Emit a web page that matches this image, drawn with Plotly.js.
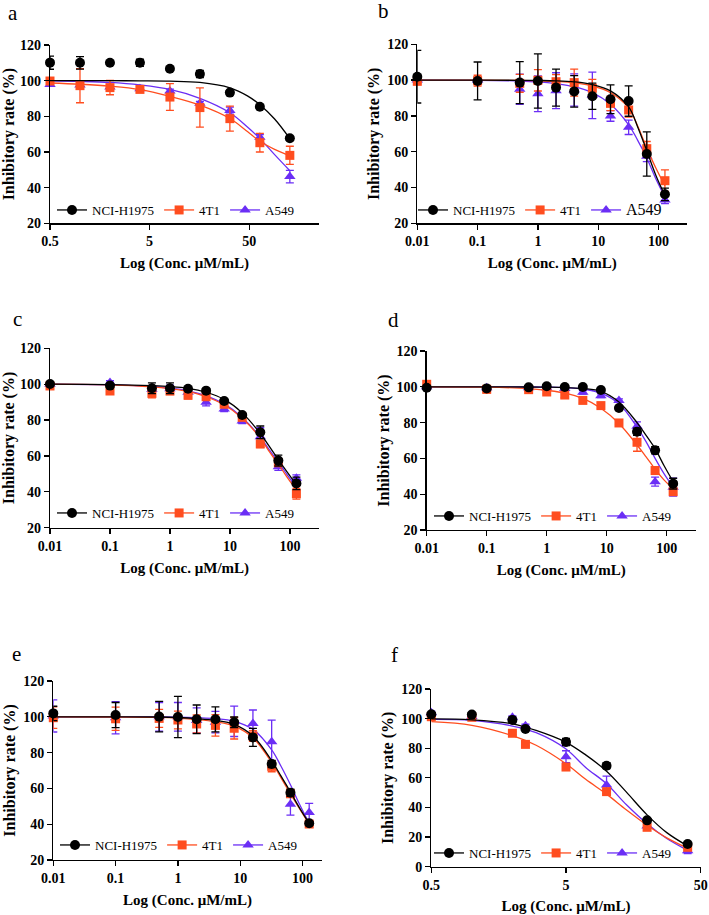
<!DOCTYPE html>
<html><head><meta charset="utf-8">
<script src="https://cdn.plot.ly/plotly-3.0.1.min.js"></script>
<style>html,body{margin:0;padding:0;background:#fff}#chart{width:709px;height:915px}</style>
</head><body><div id="chart"></div>
<script>
// ---------- data ----------
const seriesNames = ['NCI-H1975', '4T1', 'A549'];
const xTickA = [0.5, 5, 50];
const xTickB = [0.01, 0.1, 1, 10, 100];
const xTickF = [0.5, 5, 50];

const concA = [0.5, 1, 2, 4, 8, 16, 32, 64, 128];
const concB = [0.01, 0.1, 0.5, 1, 2, 4, 8, 16, 32, 64, 128];
const concF = [0.5, 1, 2, 2.5, 5, 10, 20, 40];
const fitXA = [0.5, 1, 2, 4, 8, 16, 32, 48, 64, 90, 128];
const fitXB = [0.01, 0.1, 0.5, 1, 2, 4, 8, 16, 32, 45, 64, 90, 128];
const fitXF = [0.5, 1, 2, 3, 5, 7, 10, 14, 20, 28, 40];

// panel a
const aNci = [110.1, 110, 110, 110, 106.7, 103.7, 93.3, 85.4, 67.7];
const aNciErr = [3.7, 3.5, 1, 2, 1, 2, 1.2, 1, 1];
const a4t1 = [99.8, 97.2, 96.1, 95.1, 90.8, 84.9, 78.7, 65.2, 58.1];
const a4t1Err = [1, 9.6, 4, 1.5, 7.5, 11, 7, 5.2, 5.1];
const aA549 = [97.9, 97.5, 96.5, 95.5, 94.2, 87.3, 83.2, 68.2, 46.2];
const aA549Err = [1, 1, 1, 1, 1, 1, 2, 1.5, 3.5];
const aNciFit = [100, 100, 100, 99.9, 99.7, 99, 96, 91.5, 86.5, 78.5, 67.5];
const a4t1Fit = [98.7, 98, 96.9, 95, 91.2, 86.3, 78.8, 71.5, 66, 61.5, 58];
const aA549Fit = [99.9, 99.6, 99, 97.6, 95.1, 90.1, 82, 74, 67.5, 58.5, 49.5];

// panel b
const bNci = [101.9, 99.5, 98.6, 99.5, 95.8, 93.7, 91.0, 89.3, 88.3, 58.7, 36.2];
const bNciErr = [14.7, 10.6, 11.7, 15.2, 10.3, 8.8, 7.3, 8, 8.5, 12.4, 3.5];
const b4t1 = [99.3, 99.7, 98.2, 99.9, 99.1, 98.6, 95.4, 87.0, 83.3, 61.7, 43.8];
const b4t1Err = [1, 3, 5, 6, 4, 7.5, 5, 4, 4, 4, 6];
const bA549 = [100, 100, 94.9, 92.4, 94.1, 94.5, 91.5, 80, 73.6, 57.5, 33];
const bA549Err = [1, 1, 8.4, 10, 10, 9, 13, 3, 4, 3, 2];
const bNciFit = [100, 100, 99.9, 99.8, 99.6, 99, 97.5, 94, 85, 74, 60.5, 47, 35.5];
const b4t1Fit = [100, 100, 99.8, 99.6, 99.2, 98.5, 96.8, 93, 84.5, 74.5, 62, 51, 41];
const bA549Fit = [100, 99.9, 99.5, 99, 98, 96.3, 93, 86.5, 75, 66.5, 56.5, 45, 34.5];

// panel c
const cNci = [100.1, 99.2, 97.7, 97.7, 97.5, 96.4, 90.6, 82.8, 73.2, 57.4, 44.7];
const cNciErr = [0.5, 0.8, 3, 3, 1, 1, 1, 1, 3.5, 3, 3.5];
const c4t1 = [99, 96.2, 94.9, 96.2, 93.8, 93.0, 88.8, 81.5, 66.7, 56.2, 38.9];
const c4t1Err = [1, 1, 2.5, 2, 2, 1, 1, 1, 2, 2, 3];
const cA549 = [100, 100.9, 97, 97.5, 95.5, 89.9, 86.2, 79.5, 70.7, 54, 47.5];
const cA549Err = [0.5, 1, 2, 2, 2, 2, 1.5, 1.5, 5, 2, 2];
const cNciFit = [100, 99.8, 99.2, 98.7, 97.7, 95.5, 91.5, 84, 72.5, 65.5, 58, 51, 44];
const c4t1Fit = [100, 99.6, 98.5, 97.5, 96, 93, 88.5, 81, 70, 62.5, 55.5, 48, 41];
const cA549Fit = [100, 99.6, 98.7, 97.8, 96.3, 93.5, 89, 81.5, 70.5, 63.5, 56.5, 49.5, 42.5];

// panel d
const dNci = [99.5, 99.1, 99.7, 100.3, 99.9, 99.9, 98.2, 88.2, 74.9, 64.5, 45.9];
const dNciErr = [1, 1, 1, 1, 0.5, 0.5, 1, 1, 2, 2, 3];
const d4t1 = [101.4, 98.6, 98.4, 97.1, 95.4, 92.4, 89.5, 79.8, 69, 53.2, 41.4];
const d4t1Err = [1, 2, 1, 1, 1.5, 1.5, 1.5, 1, 5, 2, 1.5];
const dA549 = [100, 99.5, 99.5, 99.5, 99, 96.9, 95, 92.3, 77.9, 47, 43.9];
const dA549Err = [0.5, 0.5, 0.5, 0.5, 0.5, 1, 1, 1, 2.5, 2.5, 5];
const dNciFit = [100, 100, 99.9, 99.8, 99.6, 99, 97.5, 91.5, 80, 73, 65.5, 56, 47];
const d4t1Fit = [100, 99.8, 99, 98, 96.5, 93.5, 88, 79.5, 67.5, 61, 54, 48, 43];
const dA549Fit = [100, 100, 99.9, 99.8, 99.5, 98.8, 96.5, 90.5, 77.5, 69.5, 60, 51.5, 44];

// panel e
const eNci = [101.9, 101, 100.1, 99.9, 98.6, 98.6, 96.9, 88.5, 73.6, 57.6, 40.5];
const eNciErr = [4, 7, 8.5, 11.5, 8, 7, 3, 5, 2, 2, 1];
const e4t1 = [99.5, 98.9, 99.1, 98.2, 96, 95.2, 93.6, 89.3, 72.3, 57, 40.1];
const e4t1Err = [6, 6.5, 5, 5, 5, 6, 6, 3, 3, 2, 1];
const eA549 = [100.5, 99.5, 100, 100, 98, 97, 97.5, 96.3, 86.1, 51.1, 46.6];
const eA549Err = [9, 9, 8, 8, 7, 6, 8.5, 7.5, 12, 6, 5];
const eNciFit = [100, 100, 99.9, 99.6, 99, 98, 95.8, 89.3, 75.5, 67, 58, 49, 40.5];
const e4t1Fit = [100, 99.9, 99.7, 99.3, 98.5, 97.2, 94.8, 88.3, 74.5, 66, 57, 48.5, 40];
const eA549Fit = [100, 100, 99.9, 99.8, 99.5, 99, 97.5, 93, 81.5, 72.5, 62, 51, 40.5];

// panel f
const fNci = [102.9, 102.7, 99.1, 93, 84.2, 68.2, 31.3, 15.3];
const fNciErr = [1, 1, 2, 1, 2.5, 2, 1, 1];
const f4t1 = [101.3, 100.9, 90.1, 82.6, 67.3, 50.7, 26.6, 13.1];
const f4t1Err = [1, 1, 1, 1, 1, 1, 1, 1];
const fA549 = [104, 101.5, 100.9, 95.2, 74.3, 55.2, 27.5, 10.8];
const fA549Err = [1, 1, 1, 1, 4, 6, 1, 2];
const fNciFit = [99.8, 99.2, 96.5, 92, 84, 75.5, 64.5, 50.5, 35, 23, 14];
const f4t1Fit = [98, 95.5, 88.5, 82, 69.5, 59, 49, 38.5, 28, 19.5, 12.5];
const fA549Fit = [99.5, 98.8, 95, 90.5, 79.5, 67, 56, 42, 29, 19, 11];

// ---------- layout / styling ----------
const W = 709, H = 915;
const FONT = 'Liberation Serif, Times New Roman, serif';
const colors = ['#000000', '#FF4D1F', '#6B2EF5'];
const symbols = ['circle', 'square', 'triangle-up'];
const msize = [10, 9, 10];

const panels = [
  {letter: 'a', box: [50, 319, 45, 223.3], xr: [Math.log10(0.5), 2.40], yr: [20, 120], ticks: xTickA,
   x: concA, fx: fitXA, ys: [aNci, a4t1, aA549], es: [aNciErr, a4t1Err, aA549Err], fs: [aNciFit, a4t1Fit, aA549Fit],
   lg: [52, 210], lp: [6, 13], bigLast: false},
  {letter: 'b', box: [417.3, 687.3, 44.3, 223.3], xr: [-2, 2.478], yr: [20, 120], ticks: xTickB,
   x: concB, fx: fitXB, ys: [bNci, b4t1, bA549], es: [bNciErr, b4t1Err, bA549Err], fs: [bNciFit, b4t1Fit, bA549Fit],
   lg: [413, 210], lp: [376, 11], bigLast: true},
  {letter: 'c', box: [50, 319.3, 348.3, 527.7], xr: [-2, 2.489], yr: [20, 120], ticks: xTickB,
   x: concB, fx: fitXB, ys: [cNci, c4t1, cA549], es: [cNciErr, c4t1Err, cA549Err], fs: [cNciFit, c4t1Fit, cA549Fit],
   lg: [52, 513], lp: [11, 319], bigLast: false},
  {letter: 'd', box: [426.7, 695.7, 351, 530], xr: [-2, 2.483], yr: [20, 120], ticks: xTickB,
   x: concB, fx: fitXB, ys: [dNci, d4t1, dA549], es: [dNciErr, d4t1Err, dA549Err], fs: [dNciFit, d4t1Fit, dA549Fit],
   lg: [429, 516], lp: [386, 320], bigLast: false},
  {letter: 'e', box: [53.3, 321.7, 681, 860], xr: [-2, 2.308], yr: [20, 120], ticks: xTickB,
   x: concB, fx: fitXB, ys: [eNci, e4t1, eA549], es: [eNciErr, e4t1Err, eA549Err], fs: [eNciFit, e4t1Fit, eA549Fit],
   lg: [55, 845], lp: [10, 654], bigLast: false},
  {letter: 'f', box: [431.3, 700.7, 689, 866.7], xr: [Math.log10(0.5), Math.log10(50)], yr: [0, 120], ticks: xTickF,
   x: concF, fx: fitXF, ys: [fNci, f4t1, fA549], es: [fNciErr, f4t1Err, fA549Err], fs: [fNciFit, f4t1Fit, fA549Fit],
   lg: [429, 853], lp: [389, 655], bigLast: false}
];

const traces = [];
const layout = {
  width: W, height: H, margin: {l: 0, r: 0, t: 0, b: 0},
  paper_bgcolor: '#fff', plot_bgcolor: 'rgba(0,0,0,0)',
  font: {family: FONT, color: '#000'},
  showlegend: true, annotations: []
};

panels.forEach((p, i) => {
  const n = i + 1;
  const xa = 'x' + (n === 1 ? '' : n), ya = 'y' + (n === 1 ? '' : n);
  const lgName = 'legend' + (n === 1 ? '' : n);
  const [x0, x1, yt, yb] = p.box;
  const axisCommon = {
    showgrid: false, zeroline: false, showline: true, linecolor: '#000', linewidth: 1.3,
    ticks: 'outside', ticklen: 5, tickwidth: 1.3, tickcolor: '#000',
    tickfont: {family: FONT, size: 14, color: '#000', weight: 'bold'}, automargin: false, fixedrange: true
  };
  layout['xaxis' + (n === 1 ? '' : n)] = Object.assign({}, axisCommon, {
    type: 'log', range: p.xr, domain: [x0 / W, x1 / W], anchor: ya,
    tickmode: 'array', tickvals: p.ticks, ticktext: p.ticks.map(String),
    title: {text: 'Log (Conc. \u03bcM/mL)', font: {family: FONT, size: 15, color: '#000', weight: 'bold'}, standoff: 9}
  });
  layout['yaxis' + (n === 1 ? '' : n)] = Object.assign({}, axisCommon, {
    range: p.yr, domain: [1 - yb / H, 1 - yt / H], anchor: xa, dtick: 20, tick0: 0,
    title: {text: 'Inhibitory rate (%)', font: {family: FONT, size: 16, color: '#000', weight: 'bold'}, standoff: 3}
  });
  layout[lgName] = {
    orientation: 'h', x: p.lg[0] / W, y: 1 - p.lg[1] / H, xanchor: 'left', yanchor: 'middle',
    bgcolor: 'rgba(0,0,0,0)', borderwidth: 0, font: {family: FONT, size: 13, color: '#000'},
    traceorder: 'normal', itemclick: false, itemdoubleclick: false
  };
  layout.annotations.push({
    text: p.letter, xref: 'paper', yref: 'paper', x: p.lp[0] / W, y: 1 - p.lp[1] / H,
    xanchor: 'left', yanchor: 'middle', showarrow: false, font: {family: FONT, size: 21, color: '#000'}
  });
  // draw order: A549, 4T1, NCI-H1975 on top
  [2, 1, 0].forEach(s => {
    traces.push({
      type: 'scatter', mode: 'lines', x: p.fx, y: p.fs[s], xaxis: xa, yaxis: ya,
      line: {color: colors[s], width: 1.3, shape: 'spline', smoothing: 1}, showlegend: false, hoverinfo: 'skip',
      cliponaxis: false
    });
    traces.push({
      type: 'scatter', mode: 'markers', x: p.x, y: p.ys[s], xaxis: xa, yaxis: ya,
      marker: {color: colors[s], symbol: symbols[s], size: msize[s]},
      error_y: {type: 'data', array: p.es[s], visible: true, color: colors[s], thickness: 1.3, width: 4},
      showlegend: false, cliponaxis: false, name: seriesNames[s]
    });
  });
  // legend entries (line + marker), in legend order
  [0, 1, 2].forEach(s => {
    const label = (p.bigLast && s === 2) ? '<span style="font-size:16px">' + seriesNames[s] + '</span>' : seriesNames[s];
    traces.push({
      type: 'scatter', mode: 'lines+markers', x: [null], y: [null], xaxis: xa, yaxis: ya,
      name: label, legend: lgName, showlegend: true,
      line: {color: colors[s], width: 1.3}, marker: {color: colors[s], symbol: symbols[s], size: msize[s]}
    });
  });
});

Plotly.newPlot('chart', traces, layout, {staticPlot: true, displayModeBar: false});
</script>
</body></html>
